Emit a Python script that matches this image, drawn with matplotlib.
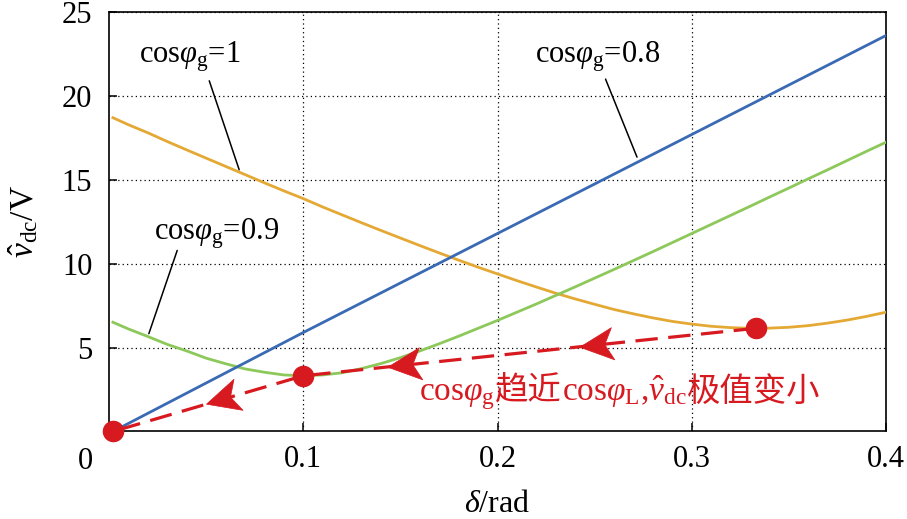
import numpy as np
import matplotlib
matplotlib.use("Agg")
import matplotlib.pyplot as plt
from matplotlib.markers import MarkerStyle
from matplotlib.path import Path
from matplotlib.transforms import Affine2D
from matplotlib.offsetbox import TextArea, HPacker, AnnotationBbox

plt.rcParams['font.family'] = ['Liberation Serif', 'DejaVu Serif']
plt.rcParams['mathtext.fontset'] = 'custom'
plt.rcParams['mathtext.rm'] = 'Liberation Serif'
plt.rcParams['mathtext.it'] = 'Liberation Serif:italic'
plt.rcParams['mathtext.bf'] = 'Liberation Serif:bold'

# ---------------- data ----------------
delta = [0.002, 0.01, 0.02, 0.03, 0.04, 0.05, 0.06, 0.07, 0.08, 0.09, 0.10,
         0.11, 0.12, 0.13, 0.14, 0.15, 0.16, 0.17, 0.18, 0.19, 0.20,
         0.21, 0.22, 0.23, 0.24, 0.25, 0.26, 0.27, 0.28, 0.29, 0.30,
         0.31, 0.32, 0.33, 0.34, 0.35, 0.36, 0.37, 0.38, 0.39, 0.40]
# cos(phi_g) = 1
v_pf10 = [18.7, 18.28, 17.8, 17.28, 16.78, 16.29, 15.8, 15.31, 14.82, 14.34, 13.88,
          13.38, 12.91, 12.44, 11.98, 11.53, 11.08, 10.64, 10.21, 9.79, 9.39,
          8.99, 8.61, 8.24, 7.9, 7.58, 7.27, 7.01, 6.77, 6.56, 6.4,
          6.27, 6.19, 6.15, 6.16, 6.21, 6.31, 6.46, 6.64, 6.86, 7.11]
# cos(phi_g) = 0.9
v_pf09 = [6.51, 6.11, 5.66, 5.19, 4.8, 4.37, 4.04, 3.73, 3.53, 3.37, 3.32,
          3.37, 3.5, 3.75, 4.05, 4.4, 4.8, 5.23, 5.68, 6.15, 6.62,
          7.11, 7.6, 8.11, 8.62, 9.14, 9.66, 10.19, 10.72, 11.26, 11.8,
          12.34, 12.88, 13.42, 13.97, 14.51, 15.06, 15.6, 16.15, 16.7, 17.24]
# cos(phi_g) = 0.8 (straight line)
delta_pf08 = [0.002, 0.1, 0.2, 0.3, 0.4]
v_pf08 = [0.0, 5.9, 11.8, 17.7, 23.6]
# extreme points (cos=1 -> cos=0.9 -> cos=0.8)
path_delta = [0.333, 0.100, 0.002]
path_v = [6.15, 3.32, 0.0]

x_ticks = [0.1, 0.2, 0.3, 0.4]
x_ticklabels = ['0.1', '0.2', '0.3', '0.4']
y_ticks = [5, 10, 15, 20, 25]
y_ticklabels = ['5', '10', '15', '20', '25']

BLUE = '#3A6AB4'
ORANGE = '#E4A935'
GREEN = '#8DC85A'
RED = '#D71920'
FS = 22

# ---------------- figure ----------------
fig = plt.figure(figsize=(9.07, 5.19), dpi=100)
ax = fig.add_axes([0.1202, 0.1686, 0.8567, 0.8083])
ax.set_xlim(0, 0.4)
ax.set_ylim(0, 25)

ax.set_xticks(x_ticks)
ax.set_xticklabels(x_ticklabels)
ax.set_yticks(y_ticks)
ax.set_yticklabels(y_ticklabels)
ax.tick_params(direction='in', length=6, width=1.1, top=False, right=False,
               labelsize=FS, colors='black')
ax.tick_params(axis='x', pad=10)
ax.tick_params(axis='y', pad=12)
for s in ax.spines.values():
    s.set_linewidth(1.2)
ax.grid(True, color='black', linestyle=(0, (1, 2.5)), linewidth=0.9)
ax.set_axisbelow(True)

ax.text(-0.0309, -0.0727, '0', transform=ax.transAxes, ha='center', va='center',
        fontsize=FS)

ax.set_xlabel(r'$\delta$/rad', fontsize=23)
ax.xaxis.set_label_coords(0.5, -0.14)
ax.xaxis.label.set_va('top')
ax.set_ylabel(r'$\hat{v}_{\mathrm{dc}}$/V', fontsize=24)
ax.yaxis.set_label_coords(-0.088, 0.5)

# curves
ax.plot(delta, v_pf10, color=ORANGE, lw=2.0, zorder=3)
ax.plot(delta, v_pf09, color=GREEN, lw=2.0, zorder=3)
ax.plot(delta_pf08, v_pf08, color=BLUE, lw=2.0, zorder=3)

# red dashed trajectory
ax.plot(path_delta, path_v, color=RED, lw=2.3, dashes=(7, 3.3), zorder=4,
        clip_on=False)
ax.plot(path_delta, path_v, 'o', ms=14.5, color=RED, zorder=6, clip_on=False)

# arrow heads (stealth shape, tip at +x)
arrow_path = Path([(1.0, 0.0), (-1.0, 0.97), (-0.5, 0.0), (-1.0, -0.97), (1.0, 0.0)],
                  [Path.MOVETO, Path.LINETO, Path.LINETO, Path.LINETO, Path.CLOSEPOLY])
for seg, t in [(0, 0.354), (0, 0.778), (1, 0.425)]:
    ax0, ay0 = path_delta[seg], path_v[seg]
    bx0, by0 = path_delta[seg + 1], path_v[seg + 1]
    px = ax0 + t * (bx0 - ax0)
    py = ay0 + t * (by0 - ay0)
    p1 = ax.transData.transform((ax0, ay0))
    p2 = ax.transData.transform((bx0, by0))
    ang = np.degrees(np.arctan2(p2[1] - p1[1], p2[0] - p1[0]))
    m = MarkerStyle(arrow_path, transform=Affine2D().rotate_deg(ang))
    ax.plot([px], [py], marker=m, ms=24, color=RED, mec=RED, mew=0.5,
            linestyle='none', zorder=5)

# labels with leader lines
lab_kw = dict(fontsize=FS, ha='left', va='baseline')
ax.text(0.0152, 22.0, r'$\mathrm{cos}\varphi_{\mathrm{g}}$=1', **lab_kw)
ax.text(0.2193, 22.0, r'$\mathrm{cos}\varphi_{\mathrm{g}}$=0.8', **lab_kw)
ax.text(0.0234, 11.43, r'$\mathrm{cos}\varphi_{\mathrm{g}}$=0.9', **lab_kw)
line_kw = dict(arrowstyle='-', color='black', lw=1.1, shrinkA=0, shrinkB=0)
ax.annotate('', xy=(0.067, 15.6), xytext=(0.0516, 20.9), arrowprops=line_kw)
ax.annotate('', xy=(0.2718, 16.35), xytext=(0.2556, 21.0), arrowprops=line_kw)
ax.annotate('', xy=(0.0205, 5.83), xytext=(0.0351, 10.79), arrowprops=line_kw)

# red annotation text
red_props = dict(color=RED, fontsize=24)
cjk_props = dict(color=RED, fontsize=24, family=['Noto Sans CJK SC'])
parts = [TextArea(r'$\mathrm{cos}\varphi_{\mathrm{g}}$', textprops=red_props),
         TextArea('趋近', textprops=cjk_props),
         TextArea(r'$\mathrm{cos}\varphi_{\mathrm{L}}$,$\hat{v}_{\mathrm{dc}}$',
                  textprops=red_props),
         TextArea('极值变小', textprops=cjk_props)]
box = HPacker(children=parts, align='baseline', pad=0, sep=0)
ab = AnnotationBbox(box, (0.1597, 2.3), xycoords='data', box_alignment=(0, 0.5),
                    frameon=False, pad=0)
ax.add_artist(ab)

fig.savefig('out.png', dpi=100)
